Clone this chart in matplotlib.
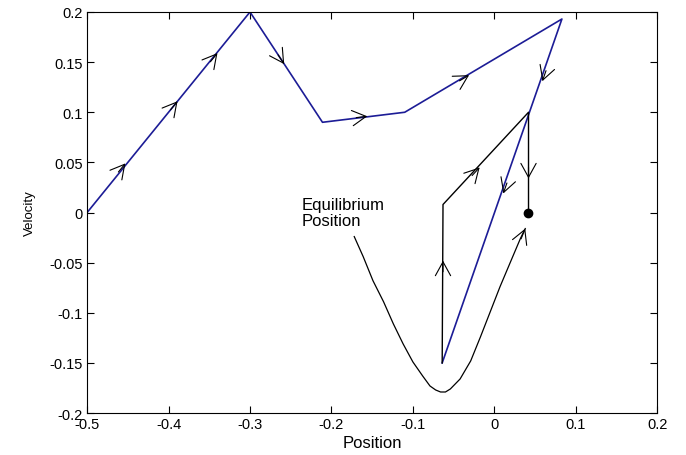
import numpy as np
import matplotlib
matplotlib.use('Agg')
from matplotlib import pyplot as plt

plt.rcParams['font.family'] = ['Liberation Sans', 'DejaVu Sans']

# main trajectory (blue)
path_x = [-0.5, -0.3, -0.211, -0.11, 0.083, -0.064]
path_y = [0.0, 0.2, 0.090, 0.100, 0.193, -0.150]

# black part after the blue line
black_x = [-0.064, -0.063, 0.042, 0.042]
black_y = [-0.150, 0.008, 0.100, 0.000]

# equilibrium point
eq_x = 0.041
eq_y = 0.0

# curve from the label to the equilibrium point
curve_x = [-0.172, -0.161, -0.149, -0.136, -0.124, -0.112, -0.100, -0.088, -0.079,
           -0.072, -0.066, -0.060, -0.054, -0.042, -0.029, -0.017, -0.005, 0.007,
           0.020, 0.032, 0.038]
curve_y = [-0.024, -0.044, -0.068, -0.089, -0.111, -0.131, -0.149, -0.163, -0.173,
           -0.177, -0.179, -0.179, -0.176, -0.166, -0.148, -0.124, -0.099, -0.074,
           -0.049, -0.026, -0.016]

# arrow tips and the direction they point to
arrow_x = [-0.453, -0.389, -0.340, -0.258, -0.156, -0.031, 0.059, 0.011, 0.042, -0.018, -0.063, 0.038]
arrow_y = [0.049, 0.111, 0.159, 0.148, 0.096, 0.137, 0.131, 0.019, 0.034, 0.045, -0.048, -0.016]
arrow_dx = [0.2, 0.2, 0.2, 0.089, 0.101, 0.193, -0.147, -0.147, 0.0, 0.105, 0.0, 0.012]
arrow_dy = [0.2, 0.2, 0.2, -0.110, 0.010, 0.093, -0.343, -0.343, -0.1, 0.092, 0.158, 0.024]

fig = plt.figure(figsize=(6.86, 4.56), dpi=100)
ax = fig.add_axes([0.127, 0.092, 0.831, 0.8795])

ax.plot(path_x, path_y, color='#1c1c96', linewidth=1.2)
ax.plot(black_x, black_y, color='black', linewidth=1.0)
ax.plot(curve_x, curve_y, color='black', linewidth=0.9)
ax.plot(eq_x, eq_y, 'o', color='black', markersize=6)

ax.set_xlim(-0.5, 0.2)
ax.set_ylim(-0.2, 0.2)

# arrows: direction worked out in screen space so heads look right
for x, y, dx, dy in zip(arrow_x, arrow_y, arrow_dx, arrow_dy):
    p1 = ax.transData.transform((x, y))
    p0 = ax.transData.transform((x - dx * 0.01, y - dy * 0.01))
    ang = np.arctan2(p1[1] - p0[1], p1[0] - p0[0])
    ax.annotate('', xy=(x, y), xytext=(-8 * np.cos(ang), -8 * np.sin(ang)),
                textcoords='offset points',
                arrowprops=dict(arrowstyle='->,head_length=1.0,head_width=0.55',
                                color='black', lw=0.8, shrinkA=0, shrinkB=0))

ax.text(-0.237, 0.0155, 'Equilibrium\nPosition', fontsize=12, va='top', ha='left',
        linespacing=1.1)

ax.set_xticks(np.arange(-0.5, 0.21, 0.1))
ax.set_yticks(np.arange(-0.2, 0.21, 0.05))
ax.set_xticklabels(['-0.5', '-0.4', '-0.3', '-0.2', '-0.1', '0', '0.1', '0.2'])
ax.set_yticklabels(['-0.2', '-0.15', '-0.1', '-0.05', '0', '0.05', '0.1', '0.15', '0.2'])
ax.tick_params(direction='in', length=5, top=True, right=True, labelsize=10.5, pad=3)
ax.set_xlabel('Position', fontsize=12, labelpad=3)
ax.set_ylabel('Velocity', fontsize=9.5, labelpad=10)

plt.savefig('out.png', dpi=100)
